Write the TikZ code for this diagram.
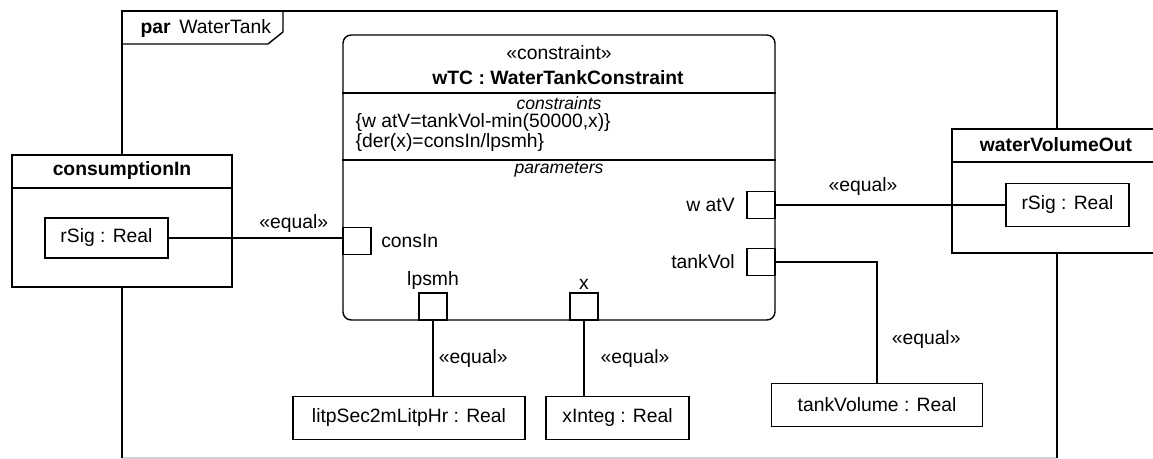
\documentclass[tikz,border=0pt]{standalone}
\usepackage{fontspec}
\setmainfont{Liberation Sans}
\usetikzlibrary{positioning, calc}

\begin{document}
\begin{tikzpicture}[x=0.02cm, y=-0.02cm, line width=0.8pt, font=\fontsize{11}{13}\selectfont]
    \tikzset{
        block/.style={draw, fill=white, inner sep=0pt},
        part/.style={draw, fill=white, minimum height=0.86cm, inner sep=0pt},
        port/.style={draw, fill=white, minimum width=0.56cm, minimum height=0.54cm, inner sep=0pt},
        heading/.style={font=\fontsize{11}{13}\selectfont\bfseries},
        compart/.style={font=\fontsize{10}{12}\selectfont\itshape},
        eqlabel/.style={inner sep=3pt}
    }
    \useasboundingbox (0,0) rectangle (1153,459);
    \clip (0,0) rectangle (1153,459);

    % frame of the parametric diagram
    \draw[gray!35] (122,458) -- (1057,458);
    \draw (122,458) -- (122,11) -- (1057,11) -- (1057,458);
    \draw (122,44) -- (268,44) -- (283,32) -- (283,11);
    \node[anchor=west] (title) at (134,29) {\textbf{par}\hspace{5pt}WaterTank};

    % constraint block
    \node[block, rounded corners=0.16cm, minimum width=8.64cm, minimum height=5.7cm] (wtc) at (559,177.5) {};
    \draw (wtc.west |- 0,93) -- (wtc.east |- 0,93);
    \draw (wtc.west |- 0,160) -- (wtc.east |- 0,160);
    \node (wtcstereo) at (559,53) {«constraint»};
    \node[heading] (wtcname) at (558,78) {wTC : WaterTankConstraint};
    \node[compart] (cstlabel) at (559,103) {constraints};
    \node[anchor=west] (cst1) at (349,123) {\{w atV=tankVol-min(50000,x)\}};
    \node[anchor=west] (cst2) at (349,143) {\{der(x)=consIn/lpsmh\}};
    \node[compart] (parlabel) at (559,170) {parameters};

    % outer blocks
    \node[block, minimum width=4.4cm, minimum height=2.64cm] (cin) at (122,221) {};
    \draw (cin.west |- 0,188) -- (cin.east |- 0,188);
    \node[heading] (cinname) at (122,171) {consumptionIn};
    \node[part, minimum width=2.46cm, minimum height=0.8cm] (rsigin) at (106.5,238) {rSig : Real};

    \node[block, minimum width=4.16cm, minimum height=2.48cm] (wvo) at (1056,191) {};
    \draw (wvo.west |- 0,162) -- (wvo.east |- 0,162);
    \node[heading] (wvoname) at (1056,145) {waterVolumeOut};
    \node[part, minimum width=2.46cm] (rsigout) at (1067.5,205) {rSig : Real};

    \node[part, minimum width=4.64cm] (litp) at (409,418) {litpSec2mLitpHr : Real};
    \node[part, minimum width=2.86cm] (xint) at (617.5,418) {xInteg : Real};
    \node[part, minimum width=4.22cm] (tankv) at (877,405) {tankVolume : Real};

    % parameter ports
    \node[port] (pcons) at (357,241) {};
    \node[port] (pwat) at (761,205) {};
    \node[port] (ptank) at (761,262) {};
    \node[port] (plps) at (433,306.5) {};
    \node[port] (px) at (584,306.5) {};
    \node[right=0.06cm of pcons] {consIn};
    \node[left=0.1cm of pwat] {w atV};
    \node[left=0.1cm of ptank] {tankVol};
    \node[above=-0.07cm of plps] {lpsmh};
    \node[above=-0.07cm of px] {x};

    % connectors
    \draw (rsigin.east) -- (rsigin.east -| pcons.west)
        node[eqlabel, pos=0.72, above] {«equal»};
    \draw (pwat.east) -- (pwat.east -| rsigout.west)
        node[eqlabel, pos=0.38, above, yshift=2pt] {«equal»};
    \draw (ptank.east) -| (tankv.north)
        node[eqlabel, pos=0.82, right, xshift=5pt] {«equal»};
    \draw (plps.south) -- (plps.south |- litp.north)
        node[eqlabel, midway, right] {«equal»};
    \draw (px.south) -- (px.south |- xint.north)
        node[eqlabel, midway, right, xshift=6pt] {«equal»};
\end{tikzpicture}
\end{document}
